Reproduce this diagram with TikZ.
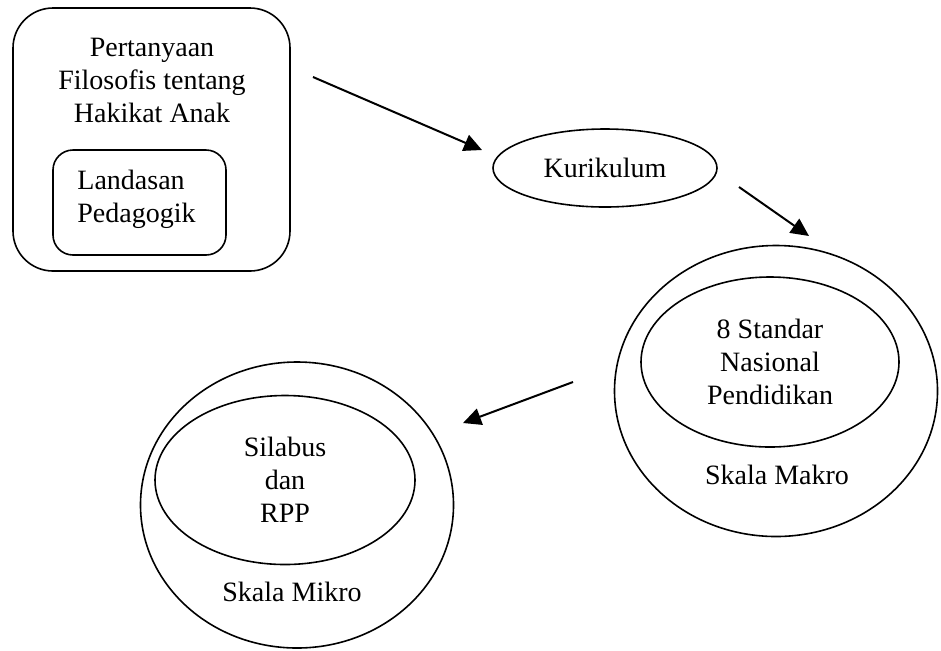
\documentclass[tikz,border=0pt]{standalone}
\usepackage{fontspec}
\setmainfont{Liberation Serif}
\usetikzlibrary{shapes.geometric,arrows.meta}
\tikzset{
  teks/.style={font=\fontsize{14}{16.5}\selectfont, inner sep=0pt},
  kotak/.style={draw, line width=0.8pt, rectangle},
  lonjong/.style={draw, line width=0.8pt, ellipse, inner sep=0pt, teks},
  panah/.style={-{Triangle[length=9pt,width=8.5pt]}, line width=1pt}
}
\begin{document}
\begin{tikzpicture}[x=0.5pt, y=-0.5pt]
        \useasboundingbox (0,0) rectangle (941,650);
        %kotak landasan
        \node[kotak, rounded corners=20pt, minimum width=138.5pt, minimum height=131.5pt] (luar) at (151.5,139.5) {};
        \node[teks, align=center] (tanya) at (152,80) {Pertanyaan\\Filosofis tentang\\Hakikat Anak};
        \node[kotak, rounded corners=10pt, minimum width=86.5pt, minimum height=52.5pt] (dalam) at (139.5,202.5) {};
        \node[teks, align=left, anchor=west] (landasan) at (77,199) {Landasan\\Pedagogik};
        %kurikulum
        \node[lonjong, minimum width=112pt, minimum height=39pt] (kurikulum) at (605,168) {Kurikulum};
        %skala makro
        \node[lonjong, minimum width=161.5pt, minimum height=145.5pt] (makro) at (776,391) {};
        \node[lonjong, minimum width=129pt, minimum height=85pt, align=center] (snp) at (770,362) {8 Standar\\Nasional\\Pendidikan};
        \node[teks] (labelmakro) at (777,475) {Skala Makro};
        %skala mikro
        \node[lonjong, minimum width=156.5pt, minimum height=143pt] (mikro) at (297,505) {};
        \node[lonjong, minimum width=130pt, minimum height=84.5pt, align=center] (rpp) at (285,480) {Silabus\\dan\\RPP};
        \node[teks] (labelmikro) at (292,592) {Skala Mikro};
        %panah
        \coordinate (p1) at (313,77);
        \coordinate (q1) at (482,150);
        \coordinate (p2) at (739,187);
        \coordinate (q2) at (809,236);
        \coordinate (p3) at (573,382);
        \coordinate (q3) at (463,423);
        \draw[panah] (p1) -- (q1);
        \draw[panah] (p2) -- (q2);
        \draw[panah] (p3) -- (q3);
\end{tikzpicture}
\end{document}
